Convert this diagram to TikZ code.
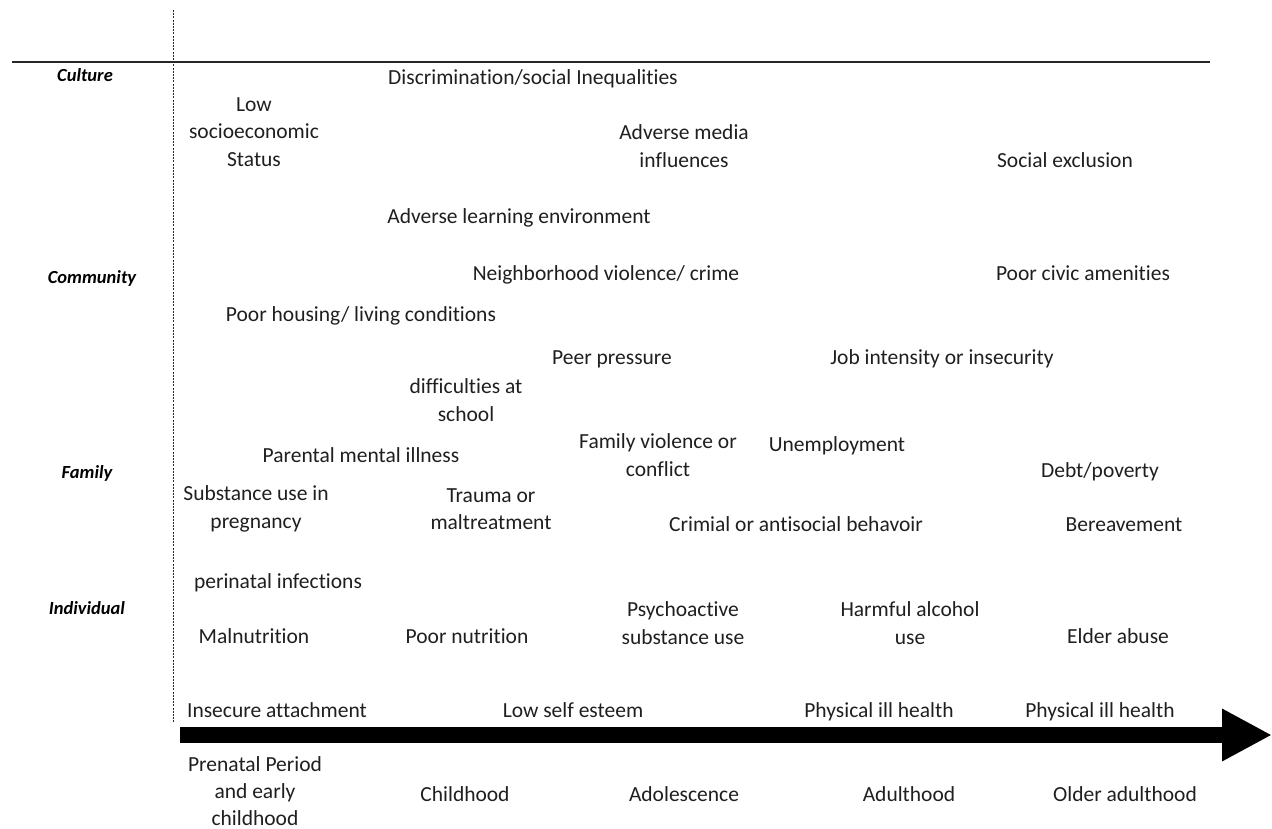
\documentclass[tikz,border=0pt]{standalone}
\usepackage{fontspec}
\setmainfont{Carlito}[Ligatures={NoCommon,NoContextual}]
\usetikzlibrary{arrows.meta}
\begin{document}
\begin{tikzpicture}[x=1pt,y=-1pt,
  txt/.style={inner sep=0pt, align=center, text=black!88, font=\fontsize{21.5}{27.5}\selectfont},
  one/.style={txt, text height=15pt, text depth=0pt},
  lvl/.style={inner sep=0pt, text=black, text height=13pt, text depth=0pt, font=\fontsize{18.5}{22}\selectfont\bfseries\itshape},
  axisline/.style={line width=1.5pt, black!85},
  sepline/.style={line width=0.9pt, black!85, dash pattern=on 2pt off 1.2pt},
  timearrow/.style={line width=16pt, -{Triangle[length=50pt,width=49pt]}}]
\useasboundingbox (0,0) rectangle (1272,828);
% frame lines
\coordinate (hL) at (12,62);
\coordinate (hR) at (1210,62);
\coordinate (vT) at (173,10);
\coordinate (vB) at (173,722);
\draw[axisline] (hL) -- (hR);
\draw[sepline] (vT) -- (vB);
% time arrow
\coordinate (aS) at (180,735);
\coordinate (aE) at (1272,735);
\draw[timearrow] (aS) -- (aE);
% level labels
\node[lvl] (culture) at (85,75) {Culture};
\node[lvl] (community) at (92,277) {Community};
\node[lvl] (family) at (87,472) {Family};
\node[lvl] (individual) at (87,608) {Individual};
% culture
\node[one] (discr) at (533,77) {Discrimination/social Inequalities};
\node[txt] (lowses) at (254,132) {Low\\socioeconomic\\Status};
\node[txt] (media) at (684,146) {Adverse media\\influences};
\node[one] (socexcl) at (1065,160) {Social exclusion};
% community
\node[one] (learn) at (519,216) {Adverse learning environment};
\node[one] (neigh) at (606,273) {Neighborhood violence/ crime};
\node[one] (civic) at (1083,273) {Poor civic amenities};
\node[one] (housing) at (361,314) {Poor housing/ living conditions};
\node[one] (peer) at (612,357) {Peer pressure};
\node[one] (job) at (942,357) {Job intensity or insecurity};
% family
\node[txt] (school) at (466,400) {difficulties at\\school};
\node[one] (parental) at (361,455) {Parental mental illness};
\node[txt] (famviol) at (658,455) {Family violence or\\conflict};
\node[one] (unemp) at (837,444) {Unemployment};
\node[one] (debt) at (1100,470) {Debt/poverty};
\node[txt] (subst) at (256,509) {Substance use in\\pregnancy};
\node[txt] (trauma) at (491,509) {Trauma or\\maltreatment};
\node[one] (crim) at (796,524) {Crimial or antisocial behavoir};
\node[one] (bereav) at (1124,524) {Bereavement};
% individual
\node[one] (perinat) at (278,581) {perinatal infections};
\node[txt] (psycho) at (683,623) {Psychoactive\\substance use};
\node[txt] (alcohol) at (910,623) {Harmful alcohol\\use};
\node[one] (malnut) at (254,636) {Malnutrition};
\node[one] (poornut) at (467,636) {Poor nutrition};
\node[one] (elder) at (1118,636) {Elder abuse};
\node[one] (attach) at (277,710) {Insecure attachment};
\node[one] (esteem) at (573,710) {Low self esteem};
\node[one] (phys1) at (879,710) {Physical ill health};
\node[one] (phys2) at (1100,710) {Physical ill health};
% life stages
\node[txt, font=\fontsize{21.5}{27}\selectfont] (prenatal) at (255,791) {Prenatal Period\\and early\\childhood};
\node[one] (child) at (465,794) {Childhood};
\node[one] (adol) at (684,794) {Adolescence};
\node[one] (adult) at (909,794) {Adulthood};
\node[one] (older) at (1125,794) {Older adulthood};
\end{tikzpicture}
\end{document}
